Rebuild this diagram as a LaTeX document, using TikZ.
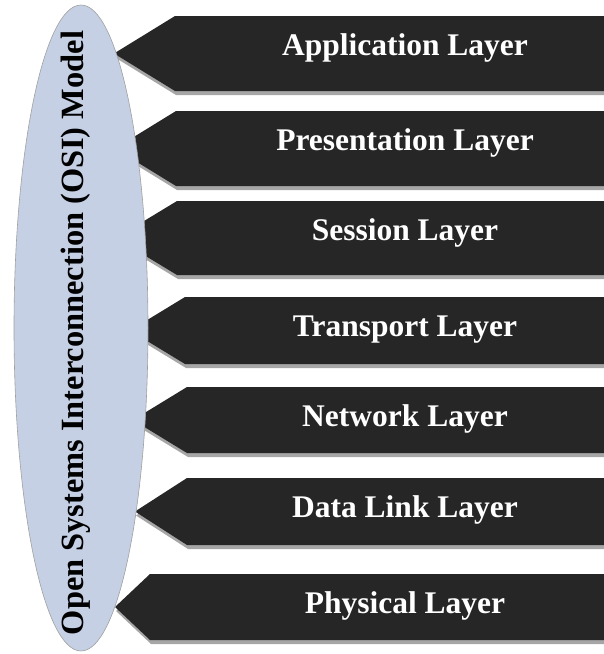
\documentclass[tikz,border=0pt]{standalone}
\usepackage{fontspec}
\setmainfont{Liberation Serif}
\usetikzlibrary{shapes.geometric}
\definecolor{arrowfill}{HTML}{262626}
\definecolor{shadowgray}{HTML}{A6A6A6}
\definecolor{ellfill}{HTML}{C5D0E4}
\definecolor{ellline}{HTML}{A0A0A0}
\begin{document}
\begin{tikzpicture}[x=1pt,y=-1pt,
  layerarrow/.style={fill=arrowfill,draw=none},
  layershadow/.style={fill=shadowgray,draw=none},
  layertext/.style={text=white,font=\fontsize{31.5}{36}\selectfont\bfseries,anchor=base,inner sep=0pt},
  modelshape/.style={ellipse,draw=ellline,line width=0.6pt,fill=ellfill,minimum width=134pt,minimum height=646pt,inner sep=0pt},
  modeltext/.style={rotate=90,anchor=base,inner sep=0pt,font=\fontsize{32.4}{36}\selectfont\bfseries}
  ]
\useasboundingbox (0,0) rectangle (604,654);
\clip (0,0) rectangle (604,654);
\foreach \yt/\yb/\xc/\xp/\lab [count=\i] in {
  16/91/175/114/Application Layer,
  111/186/176/115/Presentation Layer,
  201/275/177/116/Session Layer,
  297/364/185/130/Transport Layer,
  387/453/187/133/Network Layer,
  478/545/187/135/Data Link Layer,
  574/640/150/115/Physical Layer}{
  \pgfmathsetmacro\ym{(\yt+\yb)/2}
  \fill[layershadow] (\xp+1,\ym+4) -- (\xc+1,\yt+4) -- (606,\yt+4) -- (606,\yb+4) -- (\xc+1,\yb+4) -- cycle;
  \fill[layerarrow] (\xp,\ym) -- (\xc,\yt) -- (606,\yt) -- (606,\yb) -- (\xc,\yb) -- cycle;
  \node[layertext] (L\i) at (405,\yt+39) {\lab};
}
\node[modelshape] (osi) at (81,328) {};
\node[modeltext] (title) at (83,333) {Open Systems Interconnection (OSI) Model};
\end{tikzpicture}
\end{document}
